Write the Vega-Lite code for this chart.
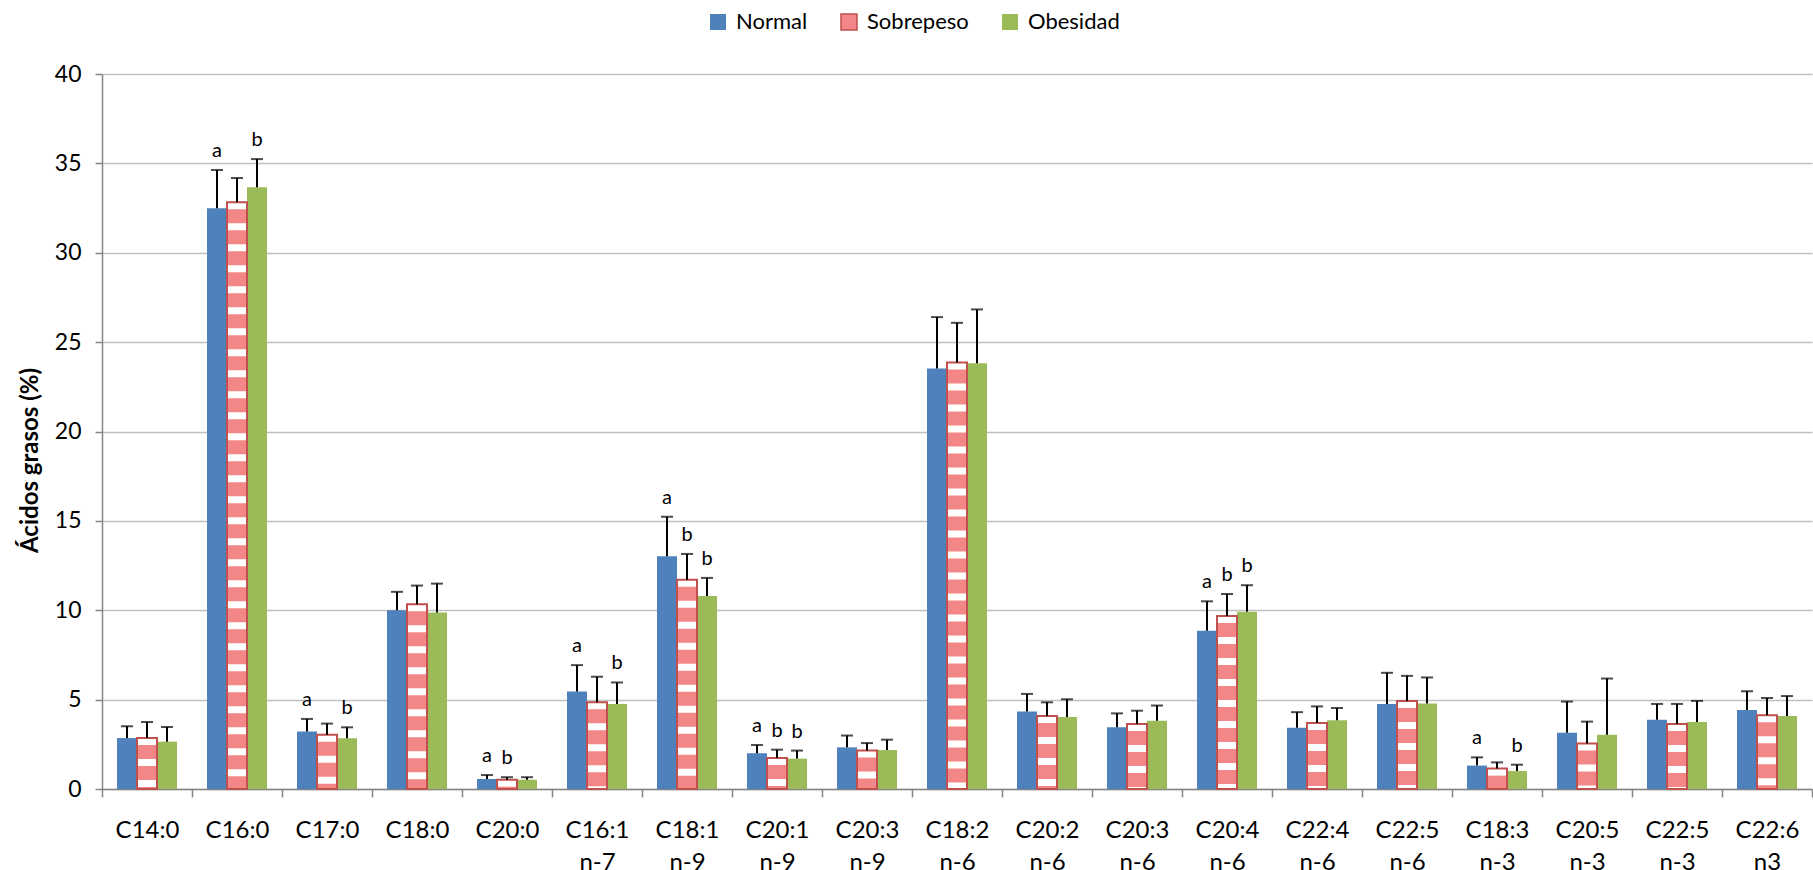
{
  "$schema": "https://vega.github.io/schema/vega-lite/v6.json",
  "width": 1710,
  "height": 715,
  "autosize": {"type": "none"},
  "padding": {"left": 102, "top": 74, "right": 1, "bottom": 81},
  "background": "white",
  "config": {"view": {"stroke": null}, "font": "Lato"},
  "data": {"values": [
    {"acid": "C14:0", "group": "Normal", "mean": 2.85, "upper": 3.51, "letter": ""},
    {"acid": "C14:0", "group": "Sobrepeso", "mean": 2.85, "upper": 3.75, "letter": ""},
    {"acid": "C14:0", "group": "Obesidad", "mean": 2.65, "upper": 3.47, "letter": ""},
    {"acid": "C16:0", "group": "Normal", "mean": 32.49, "upper": 34.63, "letter": "a"},
    {"acid": "C16:0", "group": "Sobrepeso", "mean": 32.82, "upper": 34.18, "letter": ""},
    {"acid": "C16:0", "group": "Obesidad", "mean": 33.66, "upper": 35.24, "letter": "b"},
    {"acid": "C17:0", "group": "Normal", "mean": 3.21, "upper": 3.92, "letter": "a"},
    {"acid": "C17:0", "group": "Sobrepeso", "mean": 3.04, "upper": 3.66, "letter": ""},
    {"acid": "C17:0", "group": "Obesidad", "mean": 2.84, "upper": 3.45, "letter": "b"},
    {"acid": "C18:0", "group": "Normal", "mean": 10.0, "upper": 11.03, "letter": ""},
    {"acid": "C18:0", "group": "Sobrepeso", "mean": 10.34, "upper": 11.38, "letter": ""},
    {"acid": "C18:0", "group": "Obesidad", "mean": 9.87, "upper": 11.49, "letter": ""},
    {"acid": "C20:0", "group": "Normal", "mean": 0.56, "upper": 0.78, "letter": "a"},
    {"acid": "C20:0", "group": "Sobrepeso", "mean": 0.52, "upper": 0.66, "letter": "b"},
    {"acid": "C20:0", "group": "Obesidad", "mean": 0.52, "upper": 0.66, "letter": ""},
    {"acid": "C16:1 n-7", "group": "Normal", "mean": 5.46, "upper": 6.93, "letter": "a"},
    {"acid": "C16:1 n-7", "group": "Sobrepeso", "mean": 4.86, "upper": 6.28, "letter": ""},
    {"acid": "C16:1 n-7", "group": "Obesidad", "mean": 4.75, "upper": 5.96, "letter": "b"},
    {"acid": "C18:1 n-9", "group": "Normal", "mean": 13.02, "upper": 15.23, "letter": "a"},
    {"acid": "C18:1 n-9", "group": "Sobrepeso", "mean": 11.71, "upper": 13.15, "letter": "b"},
    {"acid": "C18:1 n-9", "group": "Obesidad", "mean": 10.8, "upper": 11.81, "letter": "b"},
    {"acid": "C20:1 n-9", "group": "Normal", "mean": 2.0, "upper": 2.46, "letter": "a"},
    {"acid": "C20:1 n-9", "group": "Sobrepeso", "mean": 1.74, "upper": 2.2, "letter": "b"},
    {"acid": "C20:1 n-9", "group": "Obesidad", "mean": 1.7, "upper": 2.15, "letter": "b"},
    {"acid": "C20:3 n-9", "group": "Normal", "mean": 2.33, "upper": 2.99, "letter": ""},
    {"acid": "C20:3 n-9", "group": "Sobrepeso", "mean": 2.15, "upper": 2.57, "letter": ""},
    {"acid": "C20:3 n-9", "group": "Obesidad", "mean": 2.18, "upper": 2.76, "letter": ""},
    {"acid": "C18:2 n-6", "group": "Normal", "mean": 23.53, "upper": 26.4, "letter": ""},
    {"acid": "C18:2 n-6", "group": "Sobrepeso", "mean": 23.86, "upper": 26.08, "letter": ""},
    {"acid": "C18:2 n-6", "group": "Obesidad", "mean": 23.82, "upper": 26.83, "letter": ""},
    {"acid": "C20:2 n-6", "group": "Normal", "mean": 4.33, "upper": 5.32, "letter": ""},
    {"acid": "C20:2 n-6", "group": "Sobrepeso", "mean": 4.09, "upper": 4.85, "letter": ""},
    {"acid": "C20:2 n-6", "group": "Obesidad", "mean": 4.03, "upper": 5.02, "letter": ""},
    {"acid": "C20:3 n-6", "group": "Normal", "mean": 3.46, "upper": 4.23, "letter": ""},
    {"acid": "C20:3 n-6", "group": "Sobrepeso", "mean": 3.63, "upper": 4.38, "letter": ""},
    {"acid": "C20:3 n-6", "group": "Obesidad", "mean": 3.82, "upper": 4.67, "letter": ""},
    {"acid": "C20:4 n-6", "group": "Normal", "mean": 8.85, "upper": 10.5, "letter": "a"},
    {"acid": "C20:4 n-6", "group": "Sobrepeso", "mean": 9.68, "upper": 10.91, "letter": "b"},
    {"acid": "C20:4 n-6", "group": "Obesidad", "mean": 9.91, "upper": 11.4, "letter": "b"},
    {"acid": "C22:4 n-6", "group": "Normal", "mean": 3.43, "upper": 4.3, "letter": ""},
    {"acid": "C22:4 n-6", "group": "Sobrepeso", "mean": 3.69, "upper": 4.62, "letter": ""},
    {"acid": "C22:4 n-6", "group": "Obesidad", "mean": 3.85, "upper": 4.53, "letter": ""},
    {"acid": "C22:5 n-6", "group": "Normal", "mean": 4.75, "upper": 6.5, "letter": ""},
    {"acid": "C22:5 n-6", "group": "Sobrepeso", "mean": 4.92, "upper": 6.33, "letter": ""},
    {"acid": "C22:5 n-6", "group": "Obesidad", "mean": 4.79, "upper": 6.24, "letter": ""},
    {"acid": "C18:3 n-3", "group": "Normal", "mean": 1.31, "upper": 1.77, "letter": "a"},
    {"acid": "C18:3 n-3", "group": "Sobrepeso", "mean": 1.14, "upper": 1.49, "letter": ""},
    {"acid": "C18:3 n-3", "group": "Obesidad", "mean": 1.01, "upper": 1.36, "letter": "b"},
    {"acid": "C20:5 n-3", "group": "Normal", "mean": 3.15, "upper": 4.89, "letter": ""},
    {"acid": "C20:5 n-3", "group": "Sobrepeso", "mean": 2.54, "upper": 3.77, "letter": ""},
    {"acid": "C20:5 n-3", "group": "Obesidad", "mean": 3.04, "upper": 6.18, "letter": ""},
    {"acid": "C22:5 n-3", "group": "Normal", "mean": 3.88, "upper": 4.76, "letter": ""},
    {"acid": "C22:5 n-3", "group": "Sobrepeso", "mean": 3.64, "upper": 4.76, "letter": ""},
    {"acid": "C22:5 n-3", "group": "Obesidad", "mean": 3.75, "upper": 4.93, "letter": ""},
    {"acid": "C22:6 n3", "group": "Normal", "mean": 4.42, "upper": 5.47, "letter": ""},
    {"acid": "C22:6 n3", "group": "Sobrepeso", "mean": 4.12, "upper": 5.09, "letter": ""},
    {"acid": "C22:6 n3", "group": "Obesidad", "mean": 4.09, "upper": 5.2, "letter": ""}
  ]},
  "encoding": {
    "x": {
      "field": "acid", "type": "nominal",
      "scale": {"domain": ["C14:0","C16:0","C17:0","C18:0","C20:0","C16:1 n-7","C18:1 n-9","C20:1 n-9","C20:3 n-9","C18:2 n-6","C20:2 n-6","C20:3 n-6","C20:4 n-6","C22:4 n-6","C22:5 n-6","C18:3 n-3","C20:5 n-3","C22:5 n-3","C22:6 n3"], "paddingInner": 0, "paddingOuter": 0},
      "axis": {
        "title": null, "tickBand": "extent",
        "labelExpr": "isString(datum.value) ? split(datum.value, ' ') : ''",
        "labelAngle": 0, "labelFontSize": 24, "labelLineHeight": 32, "labelPadding": 21,
        "labelColor": "black", "labelFont": "Lato",
        "tickSize": 8, "tickColor": "#868686", "tickWidth": 1.5,
        "domainColor": "#868686", "domainWidth": 1.5, "grid": false
      }
    },
    "xOffset": {
      "field": "group", "type": "nominal",
      "scale": {"domain": ["Normal", "Sobrepeso", "Obesidad"], "paddingInner": 0, "paddingOuter": 0.75}
    }
  },
  "layer": [
    {
      "mark": {"type": "bar"},
      "encoding": {
        "y": {
          "field": "mean", "type": "quantitative", "title": "Ácidos grasos (%)",
          "scale": {"domain": [0, 40], "nice": false},
          "axis": {
            "values": [0, 5, 10, 15, 20, 25, 30, 35, 40],
            "grid": true, "gridColor": "#C0C0C0", "gridWidth": 1.5,
            "domainColor": "#868686", "domainWidth": 1.5,
            "tickColor": "#868686", "tickWidth": 1.5, "tickSize": 7,
            "labelFontSize": 23, "labelPadding": 14, "labelColor": "black", "labelFont": "Lato",
            "titleFontSize": 24, "titleFontWeight": "bold", "titleColor": "black", "titleFont": "Lato",
            "titlePadding": 12, "titleY": 386
          }
        },
        "color": {
          "field": "group", "type": "nominal",
          "scale": {"domain": ["Normal", "Sobrepeso", "Obesidad"], "range": ["#4F81BD", "#F38686", "#9BBB59"]},
          "legend": {
            "title": null, "orient": "none", "direction": "horizontal",
            "legendX": 605, "legendY": -63, "padding": 0,
            "symbolType": "square", "symbolSize": 256, "symbolOpacity": 1,
            "labelFontSize": 22, "labelOffset": 7, "columnPadding": 30,
            "labelColor": "black", "labelFont": "Lato",
            "encode": {"symbols": {"update": {
              "stroke": [{"test": "datum.label === 'Sobrepeso'", "value": "#C0504D"}, {"value": "transparent"}],
              "strokeWidth": {"value": 1.5}
            }}}
          }
        }
      }
    },
    {
      "transform": [{"filter": "datum.group === 'Sobrepeso'"}],
      "mark": {"type": "rule", "color": "white", "strokeWidth": 18, "strokeDash": [7, 14], "strokeCap": "butt"},
      "encoding": {
        "y": {"field": "mean", "type": "quantitative", "title": "Ácidos grasos (%)"},
        "y2": {"datum": 0}
      }
    },
    {
      "transform": [{"filter": "datum.group === 'Sobrepeso'"}],
      "mark": {"type": "bar", "fillOpacity": 0, "stroke": "#C0504D", "strokeWidth": 2},
      "encoding": {
        "y": {"field": "mean", "type": "quantitative", "title": "Ácidos grasos (%)"}
      }
    },
    {
      "mark": {"type": "rule", "color": "black", "strokeWidth": 2},
      "encoding": {
        "y": {"field": "mean", "type": "quantitative", "title": "Ácidos grasos (%)"},
        "y2": {"field": "upper"}
      }
    },
    {
      "mark": {"type": "tick", "color": "black", "thickness": 2, "size": 12, "orient": "horizontal"},
      "encoding": {
        "y": {"field": "upper", "type": "quantitative", "title": "Ácidos grasos (%)"}
      }
    },
    {
      "transform": [{"filter": "datum.letter !== ''"}],
      "mark": {"type": "text", "fontSize": 20, "dy": -13, "baseline": "alphabetic", "align": "center", "color": "black", "font": "Lato"},
      "encoding": {
        "y": {"field": "upper", "type": "quantitative", "title": "Ácidos grasos (%)"},
        "text": {"field": "letter"}
      }
    }
  ]
}
